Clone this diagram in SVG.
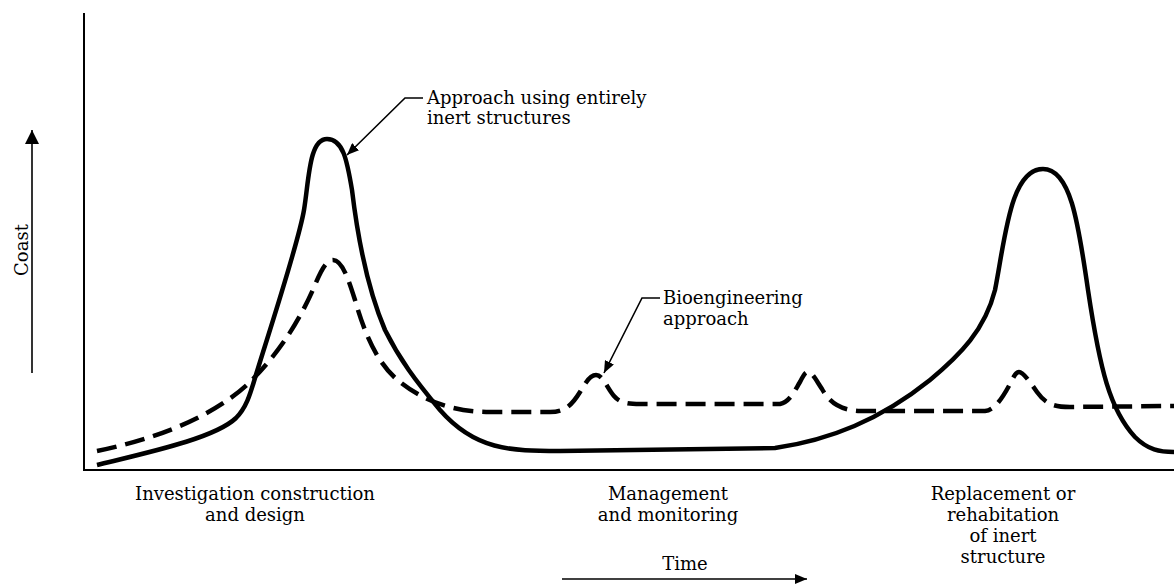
<svg xmlns="http://www.w3.org/2000/svg" width="1174" height="588" viewBox="0 0 1174 588">
<style>
.axis{fill:none;stroke:#000;stroke-width:2}
.solid{fill:none;stroke:#000;stroke-width:4.5;stroke-linejoin:round}
.dash{fill:none;stroke:#000;stroke-width:4.5;stroke-dasharray:20 9}
.lead{fill:none;stroke:#000;stroke-width:1.6}
text{font-family:"DejaVu Serif","Liberation Serif",serif;font-size:18px;fill:#000}
.mid{text-anchor:middle}
</style>
<defs>
<marker id="ah" viewBox="0 0 12 10" refX="12" refY="5" markerWidth="12" markerHeight="10" markerUnits="userSpaceOnUse" orient="auto">
<path d="M0,0 L12,5 L0,10 Z" fill="#000"/>
</marker>
<marker id="ahb" viewBox="0 0 14 14" refX="14" refY="7" markerWidth="14" markerHeight="14" markerUnits="userSpaceOnUse" orient="auto">
<path d="M0,0 L14,7 L0,14 Z" fill="#000"/>
</marker>
</defs>
<g id="axes">
<path class="axis" d="M84 13 V470 H1174"/>
</g>
<g id="coast-axis">
<line class="lead" x1="32" y1="373" x2="32" y2="130" marker-end="url(#ahb)"/>
<text transform="translate(28,250) rotate(-90)" class="mid">Coast</text>
</g>
<g id="time-axis">
<line class="lead" x1="562" y1="579" x2="807" y2="579" marker-end="url(#ah)"/>
<text x="685" y="570" class="mid">Time</text>
</g>
<g id="inert-curve">
<path class="solid" d="M97 465 C150 452 215 438 236 418 C246 408 250 395 255 378 C268 335 298 245 304 210 C309 180 309 139 327 139 C343 139 347 160 352 190 C358 240 368 290 385 330 C400 360 415 380 440 410 C475 450 510 451 560 451 L775 448 C830 440 880 420 930 380 C960 355 985 330 995 290 C1005 240 1010 169 1043 169 C1070 169 1078 220 1088 290 C1100 370 1110 410 1135 437 C1148 450 1160 452 1174 452"/>
</g>
<g id="bio-curve">
<path class="dash" d="M97 451 C150 440 210 420 250 382 C280 352 300 320 315 285 C322 268 327 260 333 260 C342 260 348 278 355 300 C365 335 378 365 400 382 C425 402 455 412 490 412 L550 412 C565 412 572 405 580 392 C586 382 590 375 596 375 C603 375 607 388 614 396 C620 403 628 404 640 404 L780 404 C790 402 795 390 800 382 C803 376 805 372 808 372 C812 372 816 380 822 389 C830 403 840 410 860 411 L985 411 C995 410 1003 397 1010 384 C1014 376 1016 372 1019 372 C1023 372 1030 382 1037 392 C1045 403 1052 407 1070 407 L1174 406"/>
</g>
<g id="connectors">
<polyline class="lead" points="423,98 405,98 347,155" marker-end="url(#ah)"/>
<polyline class="lead" points="660,298 642,298 604,373" marker-end="url(#ah)"/>
</g>
<g id="label-inert">
<text x="427" y="104">Approach using entirely</text>
<text x="427" y="124">inert structures</text>
</g>
<g id="label-bio">
<text x="663" y="304">Bioengineering</text>
<text x="663" y="325">approach</text>
</g>
<g id="label-phase1">
<text x="255" y="500" class="mid">Investigation construction</text>
<text x="255" y="521" class="mid">and design</text>
</g>
<g id="label-phase2">
<text x="668" y="500" class="mid">Management</text>
<text x="668" y="521" class="mid">and monitoring</text>
</g>
<g id="label-phase3">
<text x="1003" y="500" class="mid">Replacement or</text>
<text x="1003" y="521" class="mid">rehabitation</text>
<text x="1003" y="542" class="mid">of inert</text>
<text x="1003" y="563" class="mid">structure</text>
</g>
</svg>
